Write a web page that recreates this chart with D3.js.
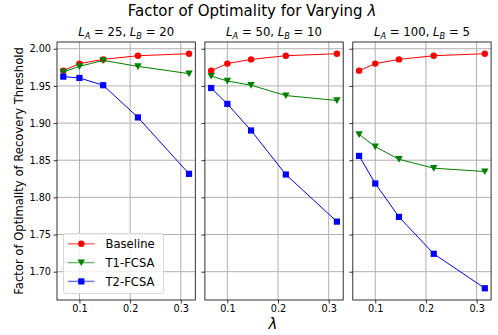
<!DOCTYPE html>
<html>
<head>
<meta charset="utf-8">
<script src="https://cdn.jsdelivr.net/npm/d3@7"></script>
<style>
  body { margin: 0; background: #fff; }
  svg { font-family: "DejaVu Sans", sans-serif; }
</style>
</head>
<body>
<svg id="chart" width="498" height="335"></svg>
<script>
// lambda values (x)
var lambdas = [0.0681, 0.1, 0.1468, 0.2154, 0.3162];

// panel definitions
var panelLA = [25, 50, 100];
var panelLB = [20, 10, 5];

// series values per panel
var baseline = [
  [1.9705, 1.9800, 1.9857, 1.9906, 1.9933],
  [1.9705, 1.9800, 1.9857, 1.9906, 1.9933],
  [1.9705, 1.9800, 1.9857, 1.9906, 1.9933]
];
var t1fcsa = [
  [1.9687, 1.9763, 1.9843, 1.9763, 1.9665],
  [1.9633, 1.9566, 1.9509, 1.9370, 1.9304],
  [1.8848, 1.8682, 1.8513, 1.8393, 1.8348]
];
var t2fcsa = [
  [1.9625, 1.9607, 1.9509, 1.9076, 1.8317],
  [1.9472, 1.9258, 1.8900, 1.8308, 1.7674],
  [1.8558, 1.8187, 1.7737, 1.7241, 1.6777]
];

var seriesNames = ["Baseline", "T1-FCSA", "T2-FCSA"];
var seriesColors = ["#ff0000", "#008000", "#0000ff"];
var seriesMarkers = ["circle", "tri", "square"];

var xTicks = [0.1, 0.2, 0.3];
var yTicks = [1.70, 1.75, 1.80, 1.85, 1.90, 1.95, 2.00];

var svg = d3.select("#chart");

var plotTop = 42, plotBottom = 300, left0 = 57, pw = 138.3, gap = 9.6;

// 5% margins like matplotlib
var xmin = d3.min(lambdas), xmax = d3.max(lambdas);
var xpad = (xmax - xmin) * 0.05;
var allY = d3.merge([d3.merge(baseline), d3.merge(t1fcsa), d3.merge(t2fcsa)]);
var ymin = d3.min(allY), ymax = d3.max(allY);
var ypad = (ymax - ymin) * 0.05;

var y = d3.scaleLinear().domain([ymin - ypad, ymax + ypad]).range([plotBottom, plotTop]);

function drawMarker(g, type, cx, cy, color) {
  if (type == "circle") {
    g.append("circle").attr("cx", cx).attr("cy", cy).attr("r", 3.2).attr("fill", color);
  } else if (type == "square") {
    g.append("rect").attr("x", cx - 3.1).attr("y", cy - 3.1)
      .attr("width", 6.2).attr("height", 6.2).attr("fill", color);
  } else {
    var s = 3.7;
    g.append("path")
      .attr("d", "M" + (cx - s) + "," + (cy - s * 0.85) + "L" + (cx + s) + "," + (cy - s * 0.85) + "L" + cx + "," + (cy + s * 0.95) + "Z")
      .attr("fill", color);
  }
}

for (var p = 0; p < 3; p++) {
  var x0 = left0 + p * (pw + gap);
  var x = d3.scaleLinear().domain([xmin - xpad, xmax + xpad]).range([x0, x0 + pw]);
  var g = svg.append("g");

  // grid
  g.selectAll(".gx").data(xTicks).enter().append("line")
    .attr("x1", function(d) { return x(d); }).attr("x2", function(d) { return x(d); })
    .attr("y1", plotTop).attr("y2", plotBottom)
    .style("stroke", "#b0b0b0").style("stroke-width", 1);
  g.selectAll(".gy").data(yTicks).enter().append("line")
    .attr("x1", x0).attr("x2", x0 + pw)
    .attr("y1", function(d) { return y(d); }).attr("y2", function(d) { return y(d); })
    .style("stroke", "#b0b0b0").style("stroke-width", 1);

  // axes
  var xAxis = g.append("g").attr("transform", "translate(0," + plotBottom + ")")
    .call(d3.axisBottom(x).tickValues(xTicks).tickSize(3.5).tickPadding(2).tickFormat(d3.format(".1f")));
  var yAxis = g.append("g").attr("transform", "translate(" + x0 + ",0)")
    .call(d3.axisLeft(y).tickValues(yTicks).tickSize(3.5).tickPadding(2.5)
      .tickFormat(p == 0 ? d3.format(".2f") : function() { return ""; }));
  [xAxis, yAxis].forEach(function(a) {
    a.select(".domain").remove();
    a.selectAll("line").style("stroke", "#000").style("stroke-width", 0.8);
    a.selectAll("text").style("font-family", "DejaVu Sans").style("font-size", "9.7px").style("fill", "#000");
  });

  // frame
  g.append("rect").attr("x", x0).attr("y", plotTop).attr("width", pw).attr("height", plotBottom - plotTop)
    .style("fill", "none").style("stroke", "#000").style("stroke-width", 0.8);

  // lines + markers
  var sets = [baseline[p], t1fcsa[p], t2fcsa[p]];
  sets.forEach(function(vals, si) {
    var line = d3.line().x(function(d, i) { return x(lambdas[i]); }).y(function(d) { return y(d); });
    g.append("path").datum(vals).attr("d", line)
      .style("fill", "none").style("stroke", seriesColors[si]).style("stroke-width", 1);
    vals.forEach(function(v, i) {
      drawMarker(g, seriesMarkers[si], x(lambdas[i]), y(v), seriesColors[si]);
    });
  });

  // panel title with mathtext-like tspans
  var t = g.append("text").attr("x", x0 + pw / 2).attr("y", 36)
    .attr("text-anchor", "middle").style("font-size", "11.7px").style("fill", "#000");
  t.append("tspan").style("font-style", "italic").text("L");
  t.append("tspan").style("font-style", "italic").style("font-size", "8.2px").attr("dy", 2.5).text("A");
  t.append("tspan").attr("dy", -2.5).text(" = " + panelLA[p] + ", ");
  t.append("tspan").style("font-style", "italic").text("L");
  t.append("tspan").style("font-style", "italic").style("font-size", "8.2px").attr("dy", 2.5).text("B");
  t.append("tspan").attr("dy", -2.5).text(" = " + panelLB[p]);

  // legend in first panel
  if (p == 0) {
    var lg = g.append("g");
    lg.append("rect").attr("x", 63.5).attr("y", 233.5).attr("width", 100).attr("height", 60).attr("rx", 2.5)
      .style("fill", "#fff").style("fill-opacity", 0.8).style("stroke", "#d0d0d0").style("stroke-width", 0.8);
    seriesNames.forEach(function(name, si) {
      var ly = 243.8 + si * 18.8;
      lg.append("line").attr("x1", 68).attr("x2", 94.5).attr("y1", ly).attr("y2", ly)
        .style("stroke", seriesColors[si]).style("stroke-opacity", 0.55).style("stroke-width", 1.5);
      drawMarker(lg, seriesMarkers[si], 81.3, ly, seriesColors[si]);
      lg.append("text").attr("x", 105.5).attr("y", ly).attr("dy", "0.36em")
        .style("font-size", "11.6px").style("fill", "#000").text(name);
    });
  }
}

// suptitle
var st = svg.append("text").attr("x", 252).attr("y", 16).attr("text-anchor", "middle")
  .style("font-size", "15px").style("fill", "#000");
st.append("tspan").text("Factor of Optimality for Varying ");
st.append("tspan").style("font-style", "italic").text("λ");

// y label
svg.append("text").attr("transform", "translate(23," + ((plotTop + plotBottom) / 2) + ") rotate(-90)")
  .attr("text-anchor", "middle").style("font-size", "11.6px").style("fill", "#000")
  .text("Factor of Optimality of Recovery Threshold");

// x label
svg.append("text").attr("x", 273).attr("y", 329).attr("text-anchor", "middle")
  .style("font-size", "15px").style("font-style", "italic").style("fill", "#000").text("λ");
</script>
</body>
</html>
